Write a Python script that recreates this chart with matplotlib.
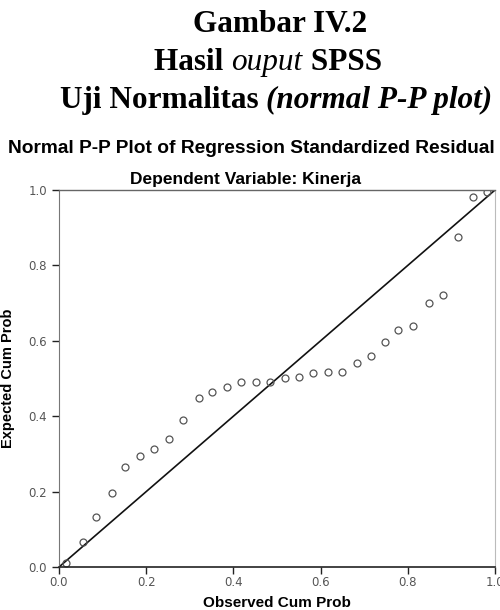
import matplotlib
matplotlib.use("Agg")
import matplotlib.pyplot as plt

# observed vs expected cumulative probabilities
observed = [0.015, 0.054, 0.085, 0.121, 0.151, 0.186, 0.218, 0.252, 0.284, 0.320,
            0.352, 0.385, 0.417, 0.452, 0.484, 0.518, 0.551, 0.583, 0.616, 0.650,
            0.683, 0.716, 0.748, 0.778, 0.813, 0.849, 0.881, 0.916, 0.950, 0.981]
expected = [0.010, 0.067, 0.133, 0.197, 0.266, 0.295, 0.312, 0.340, 0.390, 0.447,
            0.463, 0.477, 0.492, 0.492, 0.492, 0.501, 0.505, 0.515, 0.518, 0.518,
            0.540, 0.560, 0.598, 0.629, 0.640, 0.701, 0.721, 0.875, 0.981, 0.996]
ticks = [0.0, 0.2, 0.4, 0.6, 0.8, 1.0]
tick_labels = ["0.0", "0.2", "0.4", "0.6", "0.8", "1.0"]

W, H = 500, 610
fig = plt.figure(figsize=(W / 100, H / 100), dpi=100)
renderer = fig.canvas.get_renderer()


def centered_line(parts, cx, base_y, size):
    # parts: list of (text, weight, style); laid side by side, centred on cx (pixels)
    items = []
    total = 0
    for txt, weight, style in parts:
        t = fig.text(0, 1 - base_y / H, txt, ha="left", va="baseline",
                     family="Liberation Serif", weight=weight, style=style, fontsize=size)
        w = t.get_window_extent(renderer).width
        items.append((t, w))
        total += w
    x = cx - total / 2
    for t, w in items:
        t.set_x(x / W)
        x += w


hsize = 22.5
centered_line([("Gambar IV.2", "bold", "normal")], 280, 32, hsize)
centered_line([("Hasil\u00a0", "bold", "normal"), ("ouput", "normal", "italic"),
               ("\u00a0SPSS", "bold", "normal")], 268, 70, hsize)
centered_line([("Uji Normalitas\u00a0", "bold", "normal"),
               ("(normal P-P plot)", "bold", "italic")], 276, 108, hsize)

sans = "Liberation Sans"
fig.text(0.502, 1 - 153 / H, "Normal P-P Plot of Regression Standardized Residual",
         ha="center", va="baseline", family=sans, weight="bold", fontsize=13.8)
fig.text(0.49, 1 - 184 / H, "Dependent Variable: Kinerja",
         ha="center", va="baseline", family=sans, weight="bold", fontsize=12.5)

ax = fig.add_axes([59 / W, 43 / H, 436 / W, 377 / H])
ax.plot([0, 1], [0, 1], color="#111111", lw=1.2)
ax.plot(observed, expected, linestyle="none", marker="o", markersize=5,
        markerfacecolor="none", markeredgecolor="#555555", markeredgewidth=0.9)

ax.set_xlim(0, 1)
ax.set_ylim(0, 1)
ax.set_xticks(ticks)
ax.set_xticklabels(tick_labels)
ax.set_yticks(ticks)
ax.set_yticklabels(tick_labels)
ax.tick_params(direction="out", length=5, width=1, labelsize=8.5,
               labelcolor="#555555", color="#222222")
ax.tick_params(axis="x", pad=1.5)

ax.spines["bottom"].set_color("#222222")
ax.spines["bottom"].set_linewidth(1.2)
ax.spines["top"].set_color("#666666")
ax.spines["top"].set_linewidth(1.0)
ax.spines["left"].set_color("#777777")
ax.spines["left"].set_linestyle((0, (1, 1)))
ax.spines["right"].set_color("#bbbbbb")
ax.spines["right"].set_linestyle((0, (1, 1)))

ax.set_xlabel("Observed Cum Prob", family=sans, weight="bold", fontsize=11, labelpad=5)
ax.set_ylabel("Expected Cum Prob", family=sans, weight="bold", fontsize=10.5, labelpad=10)

fig.savefig("out.png", dpi=100)
